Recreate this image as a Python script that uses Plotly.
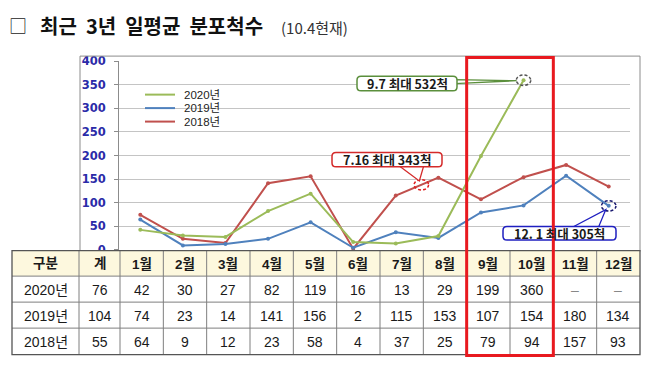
import plotly.graph_objects as go

# ---------------- data ----------------
months = ["1월", "2월", "3월", "4월", "5월", "6월", "7월", "8월", "9월", "10월", "11월", "12월"]
row_labels = ["2020년", "2019년", "2018년"]
totals = [76, 104, 55]
vals_2020 = [42, 30, 27, 82, 119, 16, 13, 29, 199, 360, None, None]
vals_2019 = [74, 23, 14, 141, 156, 2, 115, 153, 107, 154, 180, 134]
vals_2018 = [64, 9, 12, 23, 58, 4, 37, 25, 79, 94, 157, 93]
y_ticks = [0, 50, 100, 150, 200, 250, 300, 350, 400]
legend_names = ["2020년", "2019년", "2018년"]
callout_texts = ["9.7 최대 532척", "7.16 최대 343척", "12. 1 최대 305척"]

# series as drawn in the chart (legend labels as in the original picture)
line_series = [
    (legend_names[2], vals_2019, "#c0504d"),
    (legend_names[1], vals_2018, "#4f81bd"),
    (legend_names[0], vals_2020, "#9bbb59"),
]

W, H = 649, 377
X0_PX, X1_PX = 119, 630
Y0_PX, Y1_PX = 252, 56.5


def px(x):
    return x / W


def py(y):
    return 1 - y / H


def xpix(v):
    return X0_PX + (v - 0.5) * (X1_PX - X0_PX) / 12


def ypix(v):
    return Y0_PX - v * (Y0_PX - Y1_PX) / 400


fig = go.Figure()
xs = list(range(1, 13))
for name, vals, color in line_series:
    fig.add_trace(go.Scatter(
        x=xs, y=vals, mode="lines+markers", name=name,
        line=dict(color=color, width=2),
        marker=dict(color=color, size=4),
        showlegend=False, cliponaxis=False, hoverinfo="skip"))

shapes = []
annotations = []

# chart border
shapes.append(dict(type="rect", xref="paper", yref="paper",
                   x0=px(80), x1=px(640), y0=py(254), y1=py(51),
                   line=dict(color="#8c8c8c", width=1), layer="above"))

# custom legend
leg_colors = {"2020년": "#9bbb59", "2019년": "#4f81bd", "2018년": "#c0504d"}
for i, name in enumerate(legend_names):
    yy = 91 + i * 14
    shapes.append(dict(type="line", xref="paper", yref="paper",
                       x0=px(145), x1=px(175), y0=py(yy), y1=py(yy),
                       line=dict(color=leg_colors[name], width=2)))
    annotations.append(dict(xref="paper", yref="paper", x=px(182), y=py(yy),
                            text=name, showarrow=False, xanchor="left", yanchor="middle",
                            font=dict(family="Liberation Sans, Noto Sans CJK KR", size=11.5, color="#222")))

# ---------------- callouts ----------------
def rrect(x0, y0, x1, y1, r=4):
    return (f"M{px(x0 + r)},{py(y0)} L{px(x1 - r)},{py(y0)} Q{px(x1)},{py(y0)} {px(x1)},{py(y0 + r)} "
            f"L{px(x1)},{py(y1 - r)} Q{px(x1)},{py(y1)} {px(x1 - r)},{py(y1)} "
            f"L{px(x0 + r)},{py(y1)} Q{px(x0)},{py(y1)} {px(x0)},{py(y1 - r)} "
            f"L{px(x0)},{py(y0 + r)} Q{px(x0)},{py(y0)} {px(x0 + r)},{py(y0)} Z")


def wedge(b1, tip, b2):
    return (f"M{px(b1[0])},{py(b1[1])} L{px(tip[0])},{py(tip[1])} "
            f"L{px(b2[0])},{py(b2[1])} Z")


# point positions from data
g_x, g_y = 10, vals_2020[9]
r_x = 7.6
r_y = vals_2019[6] + (vals_2019[7] - vals_2019[6]) * (r_x - 7)
b_x, b_y = 12, vals_2018[11]

callouts = [
    (callout_texts[0], (357, 72, 457, 87), (455, 75.5), (455, 79.5),
     (xpix(g_x) - 7, ypix(g_y) + 0.5), "#5b8f3c", (g_x, g_y), "#555555"),
    (callout_texts[1], (332, 151, 442, 166), (398, 164), (424, 164),
     (xpix(r_x) - 2, ypix(r_y) - 4), "#d42a2a", (r_x, r_y), "#e02020"),
    (callout_texts[2], (503, 228, 616, 242), (570, 230), (598, 230),
     (xpix(b_x) - 3, ypix(b_y) + 4), "#1f1fc0", (b_x, b_y), "#1a1a70"),
]
for text, box, b1, b2, tip, col, (ex, ey), ecol in callouts:
    shapes.append(dict(type="circle", xref="x", yref="y",
                       x0=ex - 0.17, x1=ex + 0.17, y0=ey - 11, y1=ey + 11,
                       line=dict(color=ecol, width=1.5, dash="3px,2px"), layer="above"))
    shapes.append(dict(type="path", xref="paper", yref="paper", path=wedge(b1, tip, b2),
                       fillcolor="white", line=dict(color=col, width=1.3), layer="above"))
    shapes.append(dict(type="path", xref="paper", yref="paper", path=rrect(*box),
                       fillcolor="white", line=dict(color=col, width=1.5), layer="above"))
    annotations.append(dict(xref="paper", yref="paper",
                            x=px((box[0] + box[2]) / 2), y=py((box[1] + box[3]) / 2),
                            text=f"<b>{text}</b>", showarrow=False,
                            xanchor="center", yanchor="middle",
                            font=dict(family="Noto Sans CJK KR, DejaVu Sans", size=12.5, color="#1a1a1a")))

# ---------------- table ----------------
col_edges = [12, 79, 120] + [120 + (i + 1) * (640 - 120) / 12 for i in range(12)]
row_edges = [253, 279.5, 306.5, 333.5, 361]
TX0, TX1 = col_edges[0], col_edges[-1]
shapes.append(dict(type="rect", xref="paper", yref="paper",
                   x0=px(TX0), x1=px(TX1), y0=py(row_edges[1]), y1=py(row_edges[0]),
                   fillcolor="#fdf8de", line=dict(width=0), layer="above"))
shapes.append(dict(type="rect", xref="paper", yref="paper",
                   x0=px(TX0), x1=px(TX1), y0=py(row_edges[-1]), y1=py(row_edges[1]),
                   fillcolor="white", line=dict(width=0), layer="above"))
for ce in col_edges[1:-1]:
    shapes.append(dict(type="line", xref="paper", yref="paper",
                       x0=px(ce), x1=px(ce), y0=py(row_edges[0]), y1=py(row_edges[-1]),
                       line=dict(color="#7f7f7f", width=1), layer="above"))
for re_ in row_edges[1:-1]:
    shapes.append(dict(type="line", xref="paper", yref="paper",
                       x0=px(TX0), x1=px(TX1), y0=py(re_), y1=py(re_),
                       line=dict(color="#7f7f7f", width=1), layer="above"))
shapes.append(dict(type="rect", xref="paper", yref="paper",
                   x0=px(TX0), x1=px(TX1), y0=py(row_edges[-1]), y1=py(row_edges[0]),
                   line=dict(color="#555555", width=1.3), layer="above"))

header = ["구분", "계"] + months
table_rows = [
    [row_labels[0], totals[0]] + vals_2020,
    [row_labels[1], totals[1]] + vals_2019,
    [row_labels[2], totals[2]] + vals_2018,
]
tfont = "Liberation Sans, Noto Sans CJK KR"
for ci, h in enumerate(header):
    cx = (col_edges[ci] + col_edges[ci + 1]) / 2
    annotations.append(dict(xref="paper", yref="paper", x=px(cx),
                            y=py((row_edges[0] + row_edges[1]) / 2 + 0.5),
                            text=f"<b>{h}</b>", showarrow=False, xanchor="center", yanchor="middle",
                            font=dict(family=tfont, size=13.5, color="#1a1a1a")))
for ri, row in enumerate(table_rows):
    cy = (row_edges[ri + 1] + row_edges[ri + 2]) / 2 + 0.5
    for ci, v in enumerate(row):
        cx = (col_edges[ci] + col_edges[ci + 1]) / 2
        txt = "–" if v is None else str(v)
        annotations.append(dict(xref="paper", yref="paper", x=px(cx), y=py(cy),
                                text=txt, showarrow=False, xanchor="center", yanchor="middle",
                                font=dict(family=tfont, size=14,
                                          color="#888" if v is None else "#1a1a1a")))

# red highlight rectangle
shapes.append(dict(type="rect", xref="paper", yref="paper",
                   x0=px(col_edges[10]), x1=px(col_edges[12]), y0=py(362), y1=py(52.5),
                   line=dict(color="#e8191f", width=3), layer="above"))

# ---------------- title ----------------
annotations.append(dict(xref="paper", yref="paper", x=px(7), y=py(19),
                        text="□", showarrow=False, xanchor="left", yanchor="middle",
                        font=dict(family="Noto Sans CJK KR", size=18, color="#222")))
annotations.append(dict(xref="paper", yref="paper", x=px(38), y=py(19),
                        text="<b>최근  3년  일평균  분포척수</b>", showarrow=False,
                        xanchor="left", yanchor="middle",
                        font=dict(family="Noto Sans CJK KR", size=20, color="#111")))
annotations.append(dict(xref="paper", yref="paper", x=px(279), y=py(21),
                        text="(10.4현재)", showarrow=False, xanchor="left", yanchor="middle",
                        font=dict(family="Noto Sans CJK KR", size=15, color="#333")))

fig.update_layout(
    width=W, height=H,
    margin=dict(l=0, r=0, t=0, b=0),
    paper_bgcolor="white", plot_bgcolor="white",
    showlegend=False,
    xaxis=dict(domain=[px(X0_PX), px(X1_PX)], range=[0.5, 12.5], visible=False),
    yaxis=dict(domain=[py(Y0_PX), py(Y1_PX)], range=[0, 400], tickvals=y_ticks,
               showgrid=True, gridcolor="#c4c4c4", gridwidth=1,
               showline=True, linecolor="#8c8c8c", linewidth=1,
               ticks="outside", ticklen=4, tickcolor="#8c8c8c",
               ticklabelstandoff=6, zeroline=False,
               tickfont=dict(family="DejaVu Sans", size=11.5, color="#2b2ba8", weight="bold")),
    shapes=shapes,
    annotations=annotations,
)

fig.write_html("out.html", config={"displayModeBar": False, "staticPlot": True},
               post_script="document.body.style.margin='0px';document.body.style.overflow='hidden';")
